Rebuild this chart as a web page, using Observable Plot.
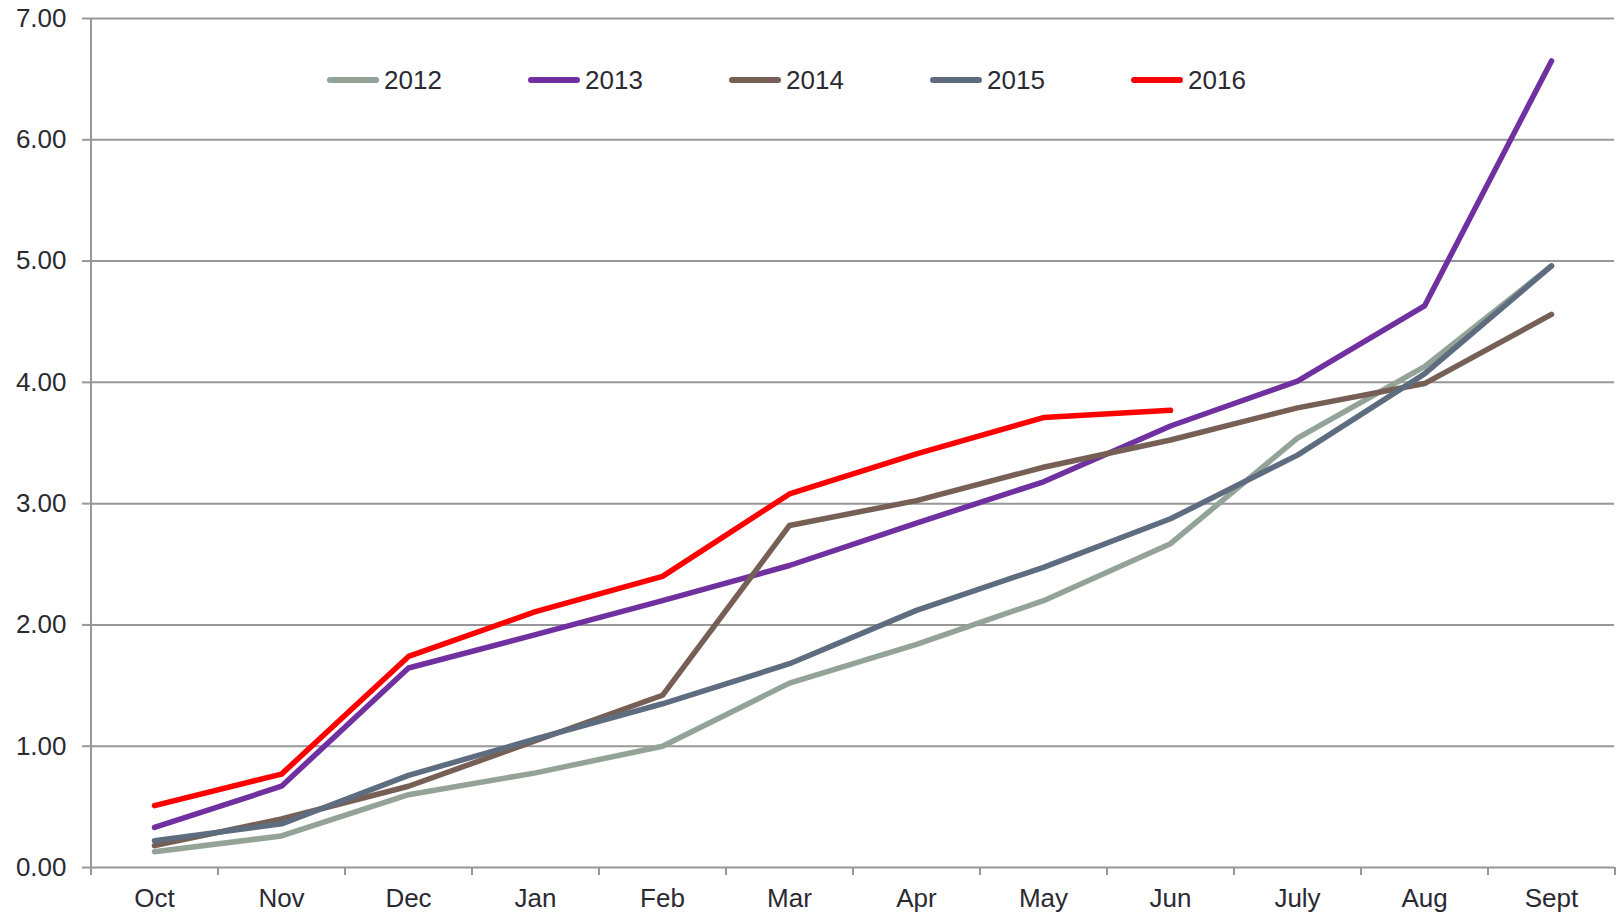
<!DOCTYPE html>
<html>
<head>
<meta charset="utf-8">
<script src="https://cdn.jsdelivr.net/npm/d3@7"></script>
<script src="https://cdn.jsdelivr.net/npm/@observablehq/plot@0.6"></script>
<style>
  html, body { margin: 0; padding: 0; background: #fff; }
  #wrap { position: relative; width: 1616px; height: 917px; font-family: "Liberation Sans", Arial, sans-serif; color: #2a2a33; }
  #legend { position: absolute; left: 0; top: 0; width: 1616px; height: 0; }
  .item { position: absolute; top: 80px; height: 0; display: flex; align-items: center; }
  .sw { width: 52px; height: 5.5px; border-radius: 3px; margin-right: 5px; }
  .lab { font-size: 26px; line-height: 1; }
</style>
</head>
<body>
<div id="wrap"><div id="chart"></div><div id="legend"></div></div>
<script>
const months = ["Oct","Nov","Dec","Jan","Feb","Mar","Apr","May","Jun","July","Aug","Sept"];
const years = ["2012","2013","2014","2015","2016"];
const colors = ["#94a398","#7030a0","#765f55","#5d6c7f","#ff0000"];
const s2012 = [0.13, 0.26, 0.60, 0.78, 1.00, 1.52, 1.84, 2.20, 2.67, 3.54, 4.13, 4.96];
const s2013 = [0.33, 0.67, 1.645, 1.92, 2.20, 2.49, 2.84, 3.18, 3.64, 4.01, 4.63, 6.65];
const s2014 = [0.18, 0.40, 0.67, 1.045, 1.42, 2.82, 3.025, 3.30, 3.525, 3.79, 3.99, 4.56];
const s2015 = [0.22, 0.36, 0.76, 1.06, 1.35, 1.68, 2.12, 2.475, 2.875, 3.40, 4.07, 4.96];
const s2016 = [0.51, 0.77, 1.74, 2.11, 2.40, 3.08, 3.41, 3.71, 3.77];
const yTicks = [0, 1, 2, 3, 4, 5, 6, 7];

const series = [s2012, s2013, s2014, s2015, s2016];
const rows = [];
series.forEach((s, i) => s.forEach((v, j) => rows.push({year: years[i], month: months[j], value: v})));

const W = 1616, H = 917, mL = 90, mR = 2, mT = 18, mB = 50;
const step = (W - mL - mR) / months.length;
const grid = "#979797";

const chart = Plot.plot({
  width: W, height: H,
  marginLeft: mL, marginRight: mR, marginTop: mT, marginBottom: mB,
  style: {fontFamily: "'Liberation Sans', Arial, sans-serif", fontSize: "26px", color: "#2a2a33", background: "#fff", overflow: "visible"},
  x: {type: "point", domain: months, padding: 0.5, label: null},
  y: {domain: [0, 7], label: null},
  color: {domain: years, range: colors},
  marks: [
    Plot.ruleY(yTicks, {stroke: grid, strokeWidth: 2}),
    Plot.ruleX([months[0]], {dx: -step / 2, stroke: grid, strokeWidth: 2}),
    Plot.ruleX(months, {dx: -step / 2, stroke: grid, strokeWidth: 2, insetTop: H - mT - mB, insetBottom: -8}),
    Plot.ruleX([months[months.length - 1]], {dx: step / 2, stroke: grid, strokeWidth: 2, insetTop: H - mT - mB, insetBottom: -8}),
    Plot.axisY({ticks: yTicks, tickFormat: d => d.toFixed(2), tickSize: 8, tickPadding: 16, stroke: grid, strokeWidth: 2, fontSize: 26, label: null}),
    Plot.axisX({tickSize: 0, tickPadding: 21.5, fontSize: 26, label: null}),
    Plot.line(rows, {x: "month", y: "value", z: "year", stroke: "year", strokeWidth: 5.5, strokeLinecap: "round", strokeLinejoin: "round"})
  ]
});
document.getElementById("chart").appendChild(chart);

const legend = document.getElementById("legend");
years.forEach((y, i) => {
  const it = document.createElement("div");
  it.className = "item";
  it.style.left = (327 + i * 201) + "px";
  const sw = document.createElement("div");
  sw.className = "sw";
  sw.style.background = colors[i];
  const lab = document.createElement("span");
  lab.className = "lab";
  lab.textContent = y;
  it.appendChild(sw); it.appendChild(lab);
  legend.appendChild(it);
});
</script>
</body>
</html>
